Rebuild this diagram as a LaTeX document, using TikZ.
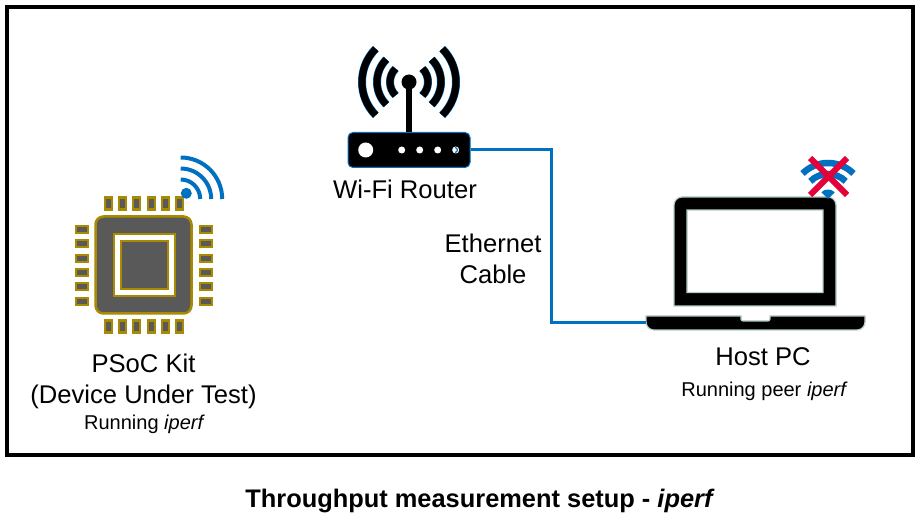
\documentclass[tikz,border=0pt]{standalone}
\usepackage{fontspec}
\setmainfont{Liberation Sans}
\definecolor{wifiblue}{HTML}{0070C0}
\definecolor{chipgold}{HTML}{A88B00}
\definecolor{chipgray}{HTML}{595959}
\definecolor{crossred}{HTML}{E4003A}
\definecolor{lapedge}{HTML}{B5CFC8}
\tikzset{
  chipin/.style={draw=chipgold,fill=chipgray,line width=2.5pt,inner sep=0pt},
  pinh/.style={chipin,minimum width=12pt,minimum height=7pt},
  pinv/.style={chipin,minimum width=7pt,minimum height=12pt},
  wave/.style={draw=wifiblue,line width=4pt},
  cable/.style={draw=wifiblue,line width=3pt},
  led/.style={circle,fill=white,inner sep=0pt,minimum size=7pt},
  lapbody/.style={draw=lapedge,line width=1.2pt,fill=black},
  bigtext/.style={font=\fontsize{25.6}{30}\selectfont,align=center},
  smalltext/.style={font=\fontsize{20}{24}\selectfont,align=center}
}
\begin{document}
\begin{tikzpicture}[x=1pt,y=-1pt]
\useasboundingbox (0,0) rectangle (921,521);
\fill[white] (0,0) rectangle (921,521);
\node[draw=black,line width=3.8pt,minimum width=906pt,minimum height=448pt,inner sep=0pt] (frame) at (460,231) {};

% chip
\node[chipin,rounded corners=8pt,minimum width=96pt,minimum height=97pt] (chip) at (143.5,265) {};
\node[chipin,fill=white,line width=2pt,minimum width=61pt,minimum height=62pt] (chipring) at (144,265.5) {};
\node[chipin,line width=2pt,minimum width=47pt,minimum height=48pt] (chipcore) at (144,265.5) {};
\foreach \px [count=\i] in {108.3,122.3,136.3,151.3,165.3,179.3} {
  \node[pinv] (pintop\i) at (\px,203.5) {};
  \node[pinv] (pinbot\i) at (\px,326.5) {};
}
\foreach \py [count=\i] in {229.3,243.3,258.3,272.3,286.3,301.3} {
  \node[pinh] (pinleft\i) at (82,\py) {};
  \node[pinh] (pinright\i) at (206,\py) {};
}
\node[circle,fill=wifiblue,minimum size=11pt,inner sep=0pt] (chipdot) at (186.3,193.3) {};
\foreach \r in {19.5,30.5,41.5}
  \draw[wave] (180.7,199) ++(-90:\r) arc[start angle=-90,end angle=0,radius=\r];
\node[bigtext] (chiplabel) at (143.5,381.5) {PSoC Kit\\[0.8pt](Device Under Test)};
\node[smalltext] (chipnote) at (144.5,424) {Running \textit{iperf}};

% router
\foreach \r in {19,32,47} {
  \draw[wifiblue,line width=8pt] (409,82) ++(-45:\r) arc[start angle=-45,end angle=45,radius=\r];
  \draw[wifiblue,line width=8pt] (409,82) ++(135:\r) arc[start angle=135,end angle=225,radius=\r];
  \draw[black,line width=7pt] (409,82) ++(-45:\r) arc[start angle=-45,end angle=45,radius=\r];
  \draw[black,line width=7pt] (409,82) ++(135:\r) arc[start angle=135,end angle=225,radius=\r];
}
\draw[black,line width=6.5pt] (409,82) -- (409,134);
\node[circle,fill=black,minimum size=15pt,inner sep=0pt] (routerball) at (409,82) {};
\node[draw=wifiblue,line width=1pt,fill=black,rounded corners=5pt,minimum width=122pt,minimum height=35pt,inner sep=0pt] (router) at (409,150) {};
\node[led,minimum size=15pt] (routerled) at (365.7,150) {};
\foreach \lx [count=\i] in {401.7,419.7,437.7,455.7}
  \node[led] (led\i) at (\lx,150) {};
\draw[wifiblue,line width=1.2pt] (455,147.6) arc[start angle=-90,end angle=90,radius=2.4];
\node[bigtext] (routerlabel) at (405,189) {Wi-Fi Router};

% laptop
\draw[lapbody,even odd rule] (674,306) -- (674,205) arc[start angle=180,end angle=270,radius=8] -- (828,197) arc[start angle=-90,end angle=0,radius=8] -- (836,306) -- cycle
  (687,210) rectangle (823,292.5);
\draw[lapbody] (646,316) -- (741,316) -- (741,319) arc[start angle=180,end angle=90,radius=2] -- (768,321) arc[start angle=90,end angle=0,radius=2] -- (770,316) -- (865,316) -- (865,322) arc[start angle=0,end angle=90,radius=8] -- (654,330) arc[start angle=90,end angle=180,radius=8] -- cycle;
\coordinate (laptopport) at (646,323);
\coordinate (cablebend) at (551,323);
\node[bigtext] (laptoplabel) at (763,357) {Host PC};
\node[smalltext] (laptopnote) at (764.5,391) {Running peer \textit{iperf}};

% wifi off
\foreach \r in {25,36}
  \draw[wifiblue,line width=6.5pt] (828,199) ++(-135:\r) arc[start angle=-135,end angle=-45,radius=\r];
\fill[wifiblue] (828,199) -- ++(-135:9.5) arc[start angle=-135,end angle=-45,radius=9.5] -- cycle;
\draw[crossred,line width=6pt] (810,158) -- (847,195);
\draw[crossred,line width=6pt] (847,158) -- (810,195);

% cable
\draw[cable] (router.east) -| (cablebend) -- (laptopport);
\node[bigtext] (cablelabel) at (493,258.5) {Ethernet\\[0.8pt]Cable};

\node[font=\bfseries\fontsize{25.4}{29}\selectfont] (caption) at (480,501) {Throughput measurement setup - \textit{iperf}};
\end{tikzpicture}
\end{document}
